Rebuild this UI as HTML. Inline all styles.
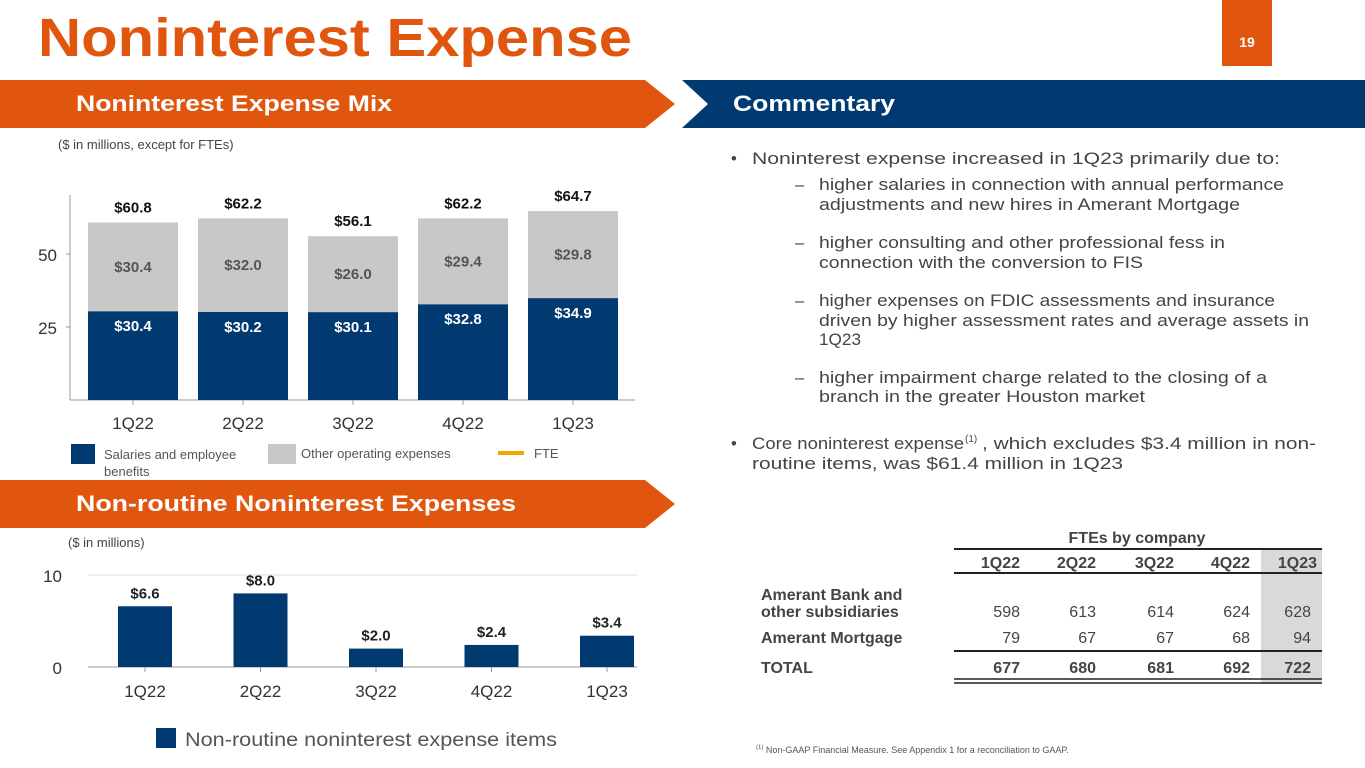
<!DOCTYPE html>
<html><head><meta charset="utf-8"><style>
html,body{margin:0;padding:0;background:#fff;}
svg{display:block;font-family:"Liberation Sans",sans-serif;}
</style></head><body>
<svg id="page" width="1365" height="768" viewBox="0 0 1365 768" xmlns="http://www.w3.org/2000/svg">
<text x="38" y="56" font-size="54" font-weight="bold" fill="#E0560F" textLength="594" lengthAdjust="spacingAndGlyphs">Noninterest Expense</text>
<g><rect x="1222" y="0" width="50" height="66" fill="#E0560F"/><text x="1247" y="47" font-size="14" font-weight="bold" fill="#fff" text-anchor="middle">19</text></g>
<g><polygon points="0,80 645,80 675,104 645,128 0,128" fill="#E0560F"/><text x="76" y="111" font-size="22" font-weight="bold" fill="#fff" textLength="316" lengthAdjust="spacingAndGlyphs">Noninterest Expense Mix</text></g>
<g><polygon points="682,80 1365,80 1365,128 682,128 708,104" fill="#003A70"/><text x="733" y="111" font-size="22" font-weight="bold" fill="#fff" textLength="162" lengthAdjust="spacingAndGlyphs">Commentary</text></g>
<g><polygon points="0,480 645,480 675,504 645,528 0,528" fill="#E0560F"/><text x="76" y="511" font-size="22" font-weight="bold" fill="#fff" textLength="440" lengthAdjust="spacingAndGlyphs">Non-routine Noninterest Expenses</text></g>
<text x="58" y="149" font-size="13" fill="#444">($ in millions, except for FTEs)</text>
<text x="68" y="547" font-size="13" fill="#444">($ in millions)</text>
<g id="mix"></g>
<g id="nr"></g>
<g>
<rect x="71" y="444" width="24" height="20" fill="#003A70"/><text x="104" y="459" font-size="13" fill="#555">Salaries and employee</text><text x="104" y="476" font-size="13" fill="#555">benefits</text>
<rect x="268" y="444" width="28" height="20" fill="#C8C8C8"/><text x="301" y="458" font-size="13" fill="#555">Other operating expenses</text>
<rect x="498" y="451" width="26" height="4" fill="#F0A800"/><text x="534" y="458" font-size="13" fill="#555">FTE</text>
</g>
<g><rect x="156" y="728" width="20" height="20" fill="#003A70"/><text x="185" y="746" font-size="19" fill="#555" textLength="372" lengthAdjust="spacingAndGlyphs">Non-routine noninterest expense items</text></g>
<g font-size="16.5" fill="#444">
<text x="731" y="164">•</text><text x="752" y="164" textLength="528" lengthAdjust="spacingAndGlyphs">Noninterest expense increased in 1Q23 primarily due to:</text>
<text x="795" y="190">–</text><text x="819" y="190" textLength="465" lengthAdjust="spacingAndGlyphs">higher salaries in connection with annual performance</text>
<text x="819" y="210" textLength="421" lengthAdjust="spacingAndGlyphs">adjustments and new hires in Amerant Mortgage</text>
<text x="795" y="248">–</text><text x="819" y="248" textLength="406" lengthAdjust="spacingAndGlyphs">higher consulting and other professional fess in</text>
<text x="819" y="268" textLength="324" lengthAdjust="spacingAndGlyphs">connection with the conversion to FIS</text>
<text x="795" y="306">–</text><text x="819" y="306" textLength="456" lengthAdjust="spacingAndGlyphs">higher expenses on FDIC assessments and insurance</text>
<text x="819" y="326" textLength="490" lengthAdjust="spacingAndGlyphs">driven by higher assessment rates and average assets in</text>
<text x="819" y="345" textLength="42" lengthAdjust="spacingAndGlyphs">1Q23</text>
<text x="795" y="383">–</text><text x="819" y="383" textLength="448" lengthAdjust="spacingAndGlyphs">higher impairment charge related to the closing of a</text>
<text x="819" y="402" textLength="326" lengthAdjust="spacingAndGlyphs">branch in the greater Houston market</text>
<text x="731" y="449">•</text><text x="752" y="449" textLength="212" lengthAdjust="spacingAndGlyphs">Core noninterest expense</text><text x="965" y="442" font-size="10">(1)</text><text x="982" y="449" textLength="334" lengthAdjust="spacingAndGlyphs">, which excludes $3.4 million in non-</text>
<text x="752" y="469" textLength="371" lengthAdjust="spacingAndGlyphs">routine items, was $61.4 million in 1Q23</text>
</g>
<g font-size="16" fill="#444">
<rect x="1261" y="549" width="61" height="135" fill="#D9D9D9"/>
<text x="1137" y="543" font-weight="bold" text-anchor="middle">FTEs by company</text>
<line x1="954" y1="549" x2="1322" y2="549" stroke="#222" stroke-width="2"/>
<line x1="954" y1="573" x2="1322" y2="573" stroke="#222" stroke-width="2"/>
<g font-weight="bold" text-anchor="end">
<text x="1020" y="568">1Q22</text><text x="1096" y="568">2Q22</text><text x="1174" y="568">3Q22</text><text x="1250" y="568">4Q22</text><text x="1317" y="568">1Q23</text></g>
<g font-weight="bold"><text x="761" y="600">Amerant Bank and</text><text x="761" y="617">other subsidiaries</text><text x="761" y="643">Amerant Mortgage</text><text x="761" y="673">TOTAL</text></g>
<g text-anchor="end"><text x="1020" y="617">598</text><text x="1096" y="617">613</text><text x="1174" y="617">614</text><text x="1250" y="617">624</text><text x="1311" y="617">628</text>
<text x="1020" y="643">79</text><text x="1096" y="643">67</text><text x="1174" y="643">67</text><text x="1250" y="643">68</text><text x="1311" y="643">94</text></g>
<line x1="954" y1="651" x2="1322" y2="651" stroke="#222" stroke-width="2"/>
<g text-anchor="end" font-weight="bold"><text x="1020" y="673">677</text><text x="1096" y="673">680</text><text x="1174" y="673">681</text><text x="1250" y="673">692</text><text x="1311" y="673">722</text></g>
<line x1="954" y1="679" x2="1322" y2="679" stroke="#222" stroke-width="1.5"/>
<line x1="954" y1="683" x2="1322" y2="683" stroke="#222" stroke-width="1.5"/>
</g>
<text x="756" y="753" font-size="9" fill="#555"><tspan font-size="6" dy="-4">(1)</tspan><tspan dy="4"> Non-GAAP Financial Measure. See Appendix 1 for a reconciliation to GAAP.</tspan></text>
</svg>
<script>
const categories = ["1Q22","2Q22","3Q22","4Q22","1Q23"];
const salaries = [30.4,30.2,30.1,32.8,34.9];
const otherOps = [30.4,32.0,26.0,29.4,29.8];
const totals = [60.8,62.2,56.1,62.2,64.7];
const mixTicks = [25,50];
const nonroutine = [6.6,8.0,2.0,2.4,3.4];
const nrTicks = [0,10];
const NS="http://www.w3.org/2000/svg";
function mk(parent,tag,attrs,txt){const e=document.createElementNS(NS,tag);for(const k in attrs)e.setAttribute(k,attrs[k]);if(txt!==undefined)e.textContent=txt;parent.appendChild(e);return e;}
const mix=document.getElementById('mix');
const my=v=>400-v*2.92, mx=i=>88+i*110, bw=90;
mk(mix,'line',{x1:70,y1:195,x2:70,y2:400,stroke:'#999'});
mk(mix,'line',{x1:70,y1:400,x2:635,y2:400,stroke:'#999'});
mixTicks.forEach(t=>{
  const l=mk(mix,'text',{x:57,y:my(t)+7,'font-size':17,fill:'#333','text-anchor':'end'},String(t));
  
  
  mk(mix,'line',{x1:66,y1:my(t),x2:70,y2:my(t),stroke:'#999'});
});
categories.forEach((c,i)=>{
  const x=mx(i);
  const b=mk(mix,'rect',{x:x,y:my(salaries[i]),width:bw,height:salaries[i]*2.92,fill:'#003A70'});
  
  
  const o=mk(mix,'rect',{x:x,y:my(salaries[i]+otherOps[i]),width:bw,height:otherOps[i]*2.92,fill:'#C8C8C8'});
  
  
  mk(mix,'text',{x:x+bw/2,y:my(salaries[i])+20,'font-size':15,'font-weight':'bold',fill:'#fff','text-anchor':'middle'},'$'+salaries[i].toFixed(1));
  mk(mix,'text',{x:x+bw/2,y:my(salaries[i]+otherOps[i]/2)+5,'font-size':15,'font-weight':'bold',fill:'#555','text-anchor':'middle'},'$'+otherOps[i].toFixed(1));
  mk(mix,'text',{x:x+bw/2,y:my(totals[i])-10,'font-size':15,'font-weight':'bold',fill:'#111','text-anchor':'middle'},'$'+totals[i].toFixed(1));
  mk(mix,'line',{x1:x+bw/2,y1:400,x2:x+bw/2,y2:405,stroke:'#999'});
  const xl=mk(mix,'text',{x:x+bw/2,y:429,'font-size':17,fill:'#333','text-anchor':'middle'},c);
  
  
});
const nr=document.getElementById('nr');
const ny=v=>667-v*9.2, nx=i=>118+i*115.5, nw=54;
mk(nr,'line',{x1:88,y1:ny(10),x2:637,y2:ny(10),stroke:'#ddd'});
mk(nr,'line',{x1:88,y1:667,x2:637,y2:667,stroke:'#999'});
nrTicks.forEach(t=>{
  const l=mk(nr,'text',{x:62,y:ny(t)+7,'font-size':17,fill:'#333','text-anchor':'end'},String(t));
  
  
});
categories.forEach((c,i)=>{
  const x=nx(i);
  const b=mk(nr,'rect',{x:x,y:ny(nonroutine[i]),width:nw,height:nonroutine[i]*9.2,fill:'#003A70'});
  
  
  mk(nr,'text',{x:x+nw/2,y:ny(nonroutine[i])-8,'font-size':15,'font-weight':'bold',fill:'#222','text-anchor':'middle'},'$'+nonroutine[i].toFixed(1));
  mk(nr,'line',{x1:x+nw/2,y1:667,x2:x+nw/2,y2:672,stroke:'#999'});
  const xl=mk(nr,'text',{x:x+nw/2,y:697,'font-size':17,fill:'#333','text-anchor':'middle'},c);
  
  
});
</script>
</body></html>
